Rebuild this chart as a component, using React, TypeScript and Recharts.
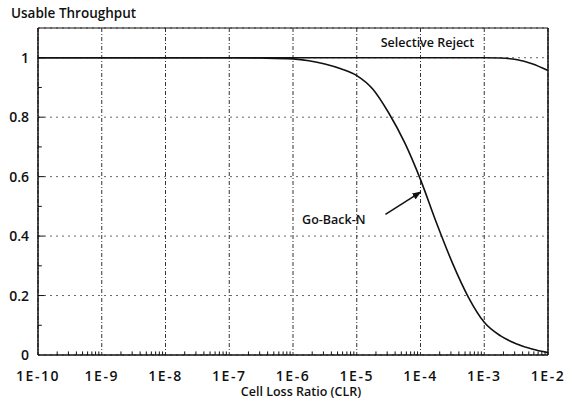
import { LineChart, Line, XAxis, YAxis, CartesianGrid, ReferenceLine, ReferenceDot } from 'recharts';

// log10(CLR) positions the curves were read at
const clrLog = [-10, -9, -8, -7, -6.5, -6, -5.75, -5.5, -5.25, -5, -4.75, -4.5, -4.25, -4, -3.75, -3.5, -3.25, -3, -2.75, -2.5, -2.25, -2];
const goBackN = [1, 1, 1, 1, 0.999, 0.996, 0.99, 0.979, 0.963, 0.94, 0.895, 0.815, 0.715, 0.59, 0.445, 0.31, 0.195, 0.11, 0.065, 0.038, 0.02, 0.008];
const selectiveReject = [1, 1, 1, 1, 1, 1, 1, 1, 1, 1, 1, 1, 1, 1, 1, 1, 1, 1, 0.999, 0.994, 0.98, 0.957];

const decades = [-10, -9, -8, -7, -6, -5, -4, -3, -2];
const decadeLabels = ['1E-10', '1E-9', '1E-8', '1E-7', '1E-6', '1E-5', '1E-4', '1E-3', '1E-2'];
const yTicks = [0, 0.2, 0.4, 0.6, 0.8, 1];
const yMinor = [0.1, 0.3, 0.5, 0.7, 0.9];

const chartData = clrLog.map((x, i) => ({ x, gbn: goBackN[i], sr: selectiveReject[i] }));

// minor log ticks 2..9 inside each decade
const xMinor = decades.slice(0, -1).flatMap(d => [2, 3, 4, 5, 6, 7, 8, 9].map(k => d + Math.log10(k)));

const FONT = "'Open Sans', 'DejaVu Sans', sans-serif";
const textStyle = { fontSize: 12.5, fill: '#111', fontFamily: FONT, fontWeight: 600 };
const yTickStyle = { fontSize: 14, fill: '#111', fontFamily: FONT, fontWeight: 600 };
const xTickStyle = { fontSize: 14, fill: '#111', fontFamily: FONT, fontWeight: 600, letterSpacing: 1.5 };

export default function App() {
  return (
    <div style={{ position: 'absolute', left: 0, top: 0, width: 567, height: 401, background: '#fff' }}>
      <div style={{ position: 'absolute', left: 11, top: 4, fontFamily: FONT, fontWeight: 600, fontSize: 13.5, color: '#111', whiteSpace: 'nowrap' }}>
        Usable Throughput
      </div>
      <LineChart width={567} height={401} data={chartData} margin={{ top: 28, right: 19, bottom: 0, left: 0 }}>
        <defs>
          <marker id="arrowHead" markerWidth="9" markerHeight="7" refX="8" refY="3.5" orient="auto" markerUnits="userSpaceOnUse">
            <path d="M0,0 L9,3.5 L0,7 Z" fill="#111" />
          </marker>
        </defs>
        <CartesianGrid vertical={false} stroke="#666" strokeDasharray="2 4" />
        <CartesianGrid horizontal={false} stroke="#333" strokeDasharray="4 2 1 2" />
        <XAxis
          type="number"
          dataKey="x"
          domain={[-10, -2]}
          ticks={decades}
          tickFormatter={v => decadeLabels[decades.indexOf(v)]}
          tick={xTickStyle}
          tickSize={0}
          tickMargin={16}
          height={46}
          axisLine={{ stroke: '#111', strokeWidth: 1.5 }}
          label={{ value: 'Cell Loss Ratio (CLR)', position: 'insideBottom', offset: 5, dx: 8, style: textStyle }}
        />
        <YAxis
          type="number"
          domain={[0, 1.1]}
          ticks={yTicks}
          tickFormatter={v => String(v)}
          tick={yTickStyle}
          tickSize={0}
          tickMargin={9}
          width={38}
          axisLine={{ stroke: '#111', strokeWidth: 1.5 }}
        />
        <ReferenceLine y={1.1} stroke="#111" strokeWidth={1.2} />
        <ReferenceLine x={-2} stroke="#111" strokeWidth={1.5} />
        {xMinor.map(v => (
          <ReferenceLine key={'mx' + v} segment={[{ x: v, y: 0 }, { x: v, y: 0.012 }]} stroke="#111" />
        ))}
        {yMinor.map(v => (
          <ReferenceLine key={'my' + v} segment={[{ x: -10, y: v }, { x: -9.94, y: v }]} stroke="#111" />
        ))}
        {yTicks.slice(1).map(v => (
          <ReferenceLine key={'My' + v} segment={[{ x: -10, y: v }, { x: -9.9, y: v }]} stroke="#111" />
        ))}
        <Line dataKey="sr" type="monotone" stroke="#111" strokeWidth={1.6} dot={false} isAnimationActive={false} />
        <Line dataKey="gbn" type="monotone" stroke="#111" strokeWidth={1.6} dot={false} isAnimationActive={false} />
        <ReferenceLine
          segment={[{ x: -4.55, y: 0.473 }, { x: -4.0, y: 0.548 }]}
          stroke="#111"
          strokeWidth={1.5}
          markerEnd="url(#arrowHead)"
        />
        <ReferenceDot
          x={-5.36}
          y={0.456}
          r={0}
          stroke="none"
          label={{ value: 'Go-Back-N', position: 'center', style: textStyle }}
        />
        <ReferenceDot
          x={-3.89}
          y={1.05}
          r={0}
          stroke="none"
          label={{ value: 'Selective Reject', position: 'center', style: textStyle }}
        />
      </LineChart>
    </div>
  );
}
